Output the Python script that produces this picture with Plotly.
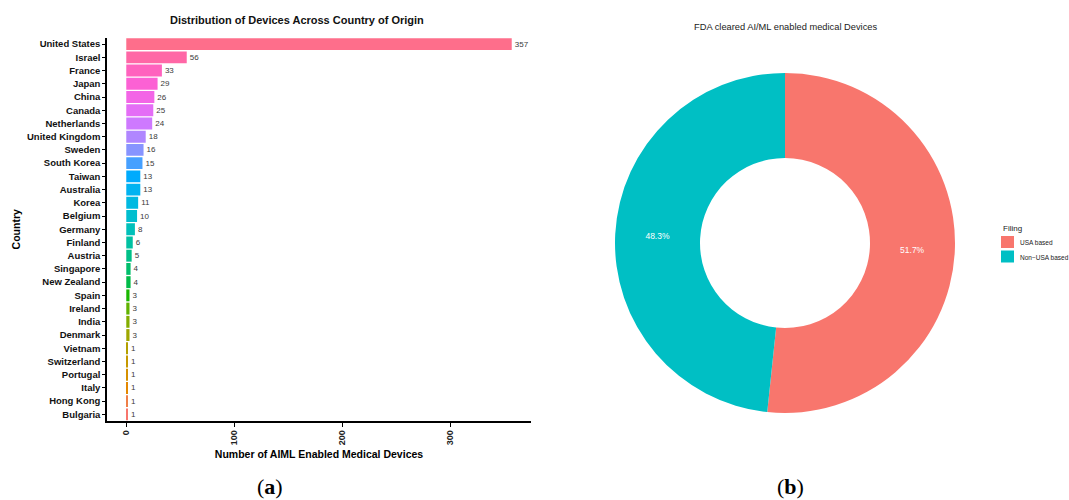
import math
import plotly.graph_objects as go

# Devices per country of origin (top to bottom as shown)
countries = [
    "United States", "Israel", "France", "Japan", "China", "Canada", "Netherlands",
    "United Kingdom", "Sweden", "South Korea", "Taiwan", "Australia", "Korea",
    "Belgium", "Germany", "Finland", "Austria", "Singapore", "New Zealand",
    "Spain", "Ireland", "India", "Denmark", "Vietnam", "Switzerland",
    "Portugal", "Italy", "Hong Kong", "Bulgaria",
]
device_counts = [
    357, 56, 33, 29, 26, 25, 24, 18, 16, 15, 13, 13, 11, 10, 8, 6, 5, 4, 4,
    3, 3, 3, 3, 1, 1, 1, 1, 1, 1,
]

# Filing split
filing_labels = ["USA based", "Non\u2212USA based"]
filing_counts = [357, 334]
filing_colors = ["#F8766D", "#00BFC4"]


def hcl_hex(h, c=100.0, l=65.0):
    """Polar LUV (HCL) to sRGB hex, clipped to gamut."""
    wy, wu, wv = 100.0, 0.1978398, 0.4683363
    hr = math.radians(h)
    u, v = c * math.cos(hr), c * math.sin(hr)
    y = wy * ((l + 16) / 116) ** 3 if l > 7.999592 else wy * l / 903.3
    up = u / (13 * l) + wu
    vp = v / (13 * l) + wv
    x = 9.0 * y * up / (4 * vp)
    z = -x / 3 - 5 * y + 3 * y / vp

    def gam(t):
        return 1.055 * t ** (1 / 2.4) - 0.055 if t > 0.00304 else 12.92 * t

    r = gam((3.240479 * x - 1.537150 * y - 0.498535 * z) / wy)
    g = gam((-0.969256 * x + 1.875992 * y + 0.041556 * z) / wy)
    b = gam((0.055648 * x - 0.204043 * y + 1.057311 * z) / wy)
    vals = [min(1.0, max(0.0, t)) for t in (r, g, b)]
    return "#%02X%02X%02X" % tuple(round(255 * t) for t in vals)


# Hue palette, one colour per country, first hue at the bottom bar
n = len(countries)
hues = [15 + 360 * i / n for i in range(n)]
palette_bottom_up = [hcl_hex(h) for h in hues]
bar_colors = list(reversed(palette_bottom_up))

FONT = "Liberation Sans"
W, H = 1069, 500

fig = go.Figure()

fig.add_trace(go.Bar(
    x=device_counts,
    y=countries,
    orientation="h",
    marker=dict(color=bar_colors, line=dict(width=0)),
    text=[str(v) for v in device_counts],
    textposition="outside",
    textfont=dict(family=FONT, size=8, color="#3a3a3a"),
    constraintext="none",
    cliponaxis=False,
    showlegend=False,
    xaxis="x", yaxis="y",
))

fig.add_trace(go.Pie(
    labels=filing_labels,
    values=filing_counts,
    hole=0.5,
    sort=False,
    direction="clockwise",
    rotation=0,
    marker=dict(colors=filing_colors, line=dict(width=0)),
    texttemplate="%{percent:.1%}",
    textposition="inside",
    insidetextorientation="horizontal",
    textfont=dict(family=FONT, size=8.5, color="white"),
    domain=dict(x=[615 / W, 955 / W], y=[1 - 413 / H, 1 - 73 / H]),
    showlegend=False,
))

x0, x1 = 107 / W, 531 / W
y0, y1 = 1 - 421 / H, 1 - 37.5 / H


def note(text, px, py, size, family=FONT, color="#111", xanchor="center"):
    return dict(text=text, x=px / W, y=1 - py / H, xref="paper", yref="paper",
                xanchor=xanchor, yanchor="middle", showarrow=False,
                font=dict(family=family, size=size, color=color))


annotations = [
    note("<b>Distribution of Devices Across Country of Origin</b>", 297, 20, 11),
    note("FDA cleared AI/ML enabled medical Devices", 785, 27, 9.3, color="#222"),
    note("(<b>a</b>)", 270, 486, 22, family="Liberation Serif", color="black"),
    note("(<b>b</b>)", 790, 486, 22, family="Liberation Serif", color="black"),
    # Legend for the filing donut
    note("Filing", 1001, 229, 8, color="#222", xanchor="left"),
]
shapes = []
key_left, key_top, key_step = 1001, 236, 14.5
for i, (lab, col) in enumerate(zip(filing_labels, filing_colors)):
    top = key_top + i * key_step
    shapes.append(dict(type="rect", xref="paper", yref="paper",
                       x0=key_left / W, x1=(key_left + 13) / W,
                       y0=1 - (top + 12) / H, y1=1 - top / H,
                       fillcolor=col, line=dict(width=0)))
    annotations.append(note(lab, key_left + 17, top + 6.5, 6.5,
                            color="#222", xanchor="left"))

fig.update_layout(
    width=W, height=H,
    margin=dict(l=0, r=0, t=0, b=0, autoexpand=False),
    paper_bgcolor="white",
    plot_bgcolor="white",
    bargap=0.1,
    showlegend=False,
    font=dict(family=FONT, color="black"),
    xaxis=dict(
        domain=[x0, x1],
        anchor="y",
        range=[-17.85, 374.85],
        tickvals=[0, 100, 200, 300],
        tickangle=-90,
        tickfont=dict(family=FONT, size=9, color="#222", weight="bold"),
        ticks="outside", ticklen=4, tickwidth=1, tickcolor="black",
        showline=True, linecolor="black", linewidth=1.5,
        showgrid=False, zeroline=False,
        title=dict(text="Number of AIML Enabled Medical Devices",
                   font=dict(family=FONT, size=10.5, weight="bold"),
                   standoff=6),
    ),
    yaxis=dict(
        domain=[y0, y1],
        anchor="x",
        categoryorder="array",
        categoryarray=countries,
        autorange="reversed",
        tickfont=dict(family=FONT, size=9.5, color="#111", weight="bold"),
        ticks="outside", ticklen=3, tickwidth=1, tickcolor="black",
        showline=True, linecolor="black", linewidth=1.5,
        showgrid=False, zeroline=False,
        title=dict(text="Country",
                   font=dict(family=FONT, size=10.5, weight="bold"),
                   standoff=4),
    ),
    shapes=shapes,
    annotations=annotations,
)

fig.write_html("out.html")
